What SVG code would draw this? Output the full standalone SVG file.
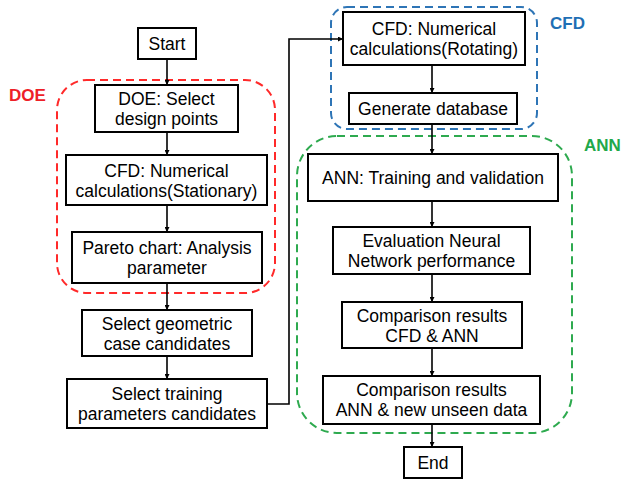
<svg xmlns="http://www.w3.org/2000/svg" width="624" height="480" viewBox="0 0 624 480">
<defs>
<marker id="ah" viewBox="0 0 10 10" refX="10" refY="5" markerWidth="5" markerHeight="5" orient="auto" markerUnits="userSpaceOnUse"><path d="M0,0 L10,5 L0,10 z" fill="#000"/></marker>
<style>
.box{fill:#fff;stroke:#000;stroke-width:2}
.t{font-family:"Liberation Sans",Arial,sans-serif;font-size:17.5px;fill:#000;text-anchor:middle}
.lbl{font-family:"Liberation Sans",Arial,sans-serif;font-size:17px;font-weight:bold}
.grp{fill:none;stroke-width:2;stroke-dasharray:8 5}
.c{fill:none;stroke:#000;stroke-width:1.6;marker-end:url(#ah)}
</style>
</defs>
<rect width="624" height="480" fill="#fff"/>
<g id="groups">
<rect x="57" y="80" width="218" height="213" rx="30" class="grp" stroke="#FF2A2A"/>
<rect x="331" y="7" width="206" height="122" rx="16" class="grp" stroke="#2E75B6"/>
<rect x="297" y="136" width="275" height="297" rx="40" class="grp" stroke="#2EAA4F"/>
<text x="9" y="101" class="lbl" fill="#EE2027">DOE</text>
<text x="550" y="29" class="lbl" fill="#1F6FB5">CFD</text>
<text x="584" y="151" class="lbl" fill="#22A84A">ANN</text>
</g>
<g id="connectors">
<path class="c" d="M167,59 V85"/>
<path class="c" d="M167,132 V155"/>
<path class="c" d="M167,205 V232"/>
<path class="c" d="M167,283 V310"/>
<path class="c" d="M167,356 V379"/>
<path class="c" d="M267,404 H289 V39 H343"/>
<path class="c" d="M432,65 V93"/>
<path class="c" d="M432,124 V154"/>
<path class="c" d="M432,201 V227"/>
<path class="c" d="M432,274 V302"/>
<path class="c" d="M432,348 V376"/>
<path class="c" d="M432,424 V447"/>
</g>
<g id="start"><rect class="box" x="138" y="28" width="58" height="31"/><text class="t" x="167" y="50">Start</text></g>
<g id="doe"><rect class="box" x="95" y="85" width="143" height="47"/><text class="t" x="166.5" y="105">DOE: Select</text><text class="t" x="166.5" y="125">design points</text></g>
<g id="cfd-stationary"><rect class="box" x="66" y="155" width="201" height="50"/><text class="t" x="166.5" y="176.5">CFD: Numerical</text><text class="t" x="166.5" y="196.5">calculations(Stationary)</text></g>
<g id="pareto"><rect class="box" x="72" y="232" width="190" height="51"/><text class="t" x="167" y="254">Pareto chart: Analysis</text><text class="t" x="167" y="274">parameter</text></g>
<g id="select-geometric"><rect class="box" x="82" y="310" width="170" height="46"/><text class="t" x="167" y="329.5">Select geometric</text><text class="t" x="167" y="349.5">case candidates</text></g>
<g id="select-training"><rect class="box" x="67" y="379" width="200" height="49"/><text class="t" x="167" y="400">Select training</text><text class="t" x="167" y="420">parameters candidates</text></g>
<g id="cfd-rotating"><rect class="box" x="343" y="12" width="182" height="53"/><text class="t" x="434" y="35">CFD: Numerical</text><text class="t" x="434" y="55">calculations(Rotating)</text></g>
<g id="generate-database"><rect class="box" x="349" y="93" width="168" height="31"/><text class="t" x="433" y="114.5">Generate database</text></g>
<g id="ann-training"><rect class="box" x="308" y="154" width="250" height="47"/><text class="t" x="433" y="183.5">ANN: Training and validation</text></g>
<g id="evaluation"><rect class="box" x="333" y="227" width="197" height="47"/><text class="t" x="431.5" y="247">Evaluation Neural</text><text class="t" x="431.5" y="267">Network performance</text></g>
<g id="comparison-cfd-ann"><rect class="box" x="342" y="302" width="180" height="46"/><text class="t" x="432" y="321.5">Comparison results</text><text class="t" x="432" y="341.5">CFD &amp; ANN</text></g>
<g id="comparison-unseen"><rect class="box" x="323" y="376" width="217" height="48"/><text class="t" x="431.5" y="396">Comparison results</text><text class="t" x="431.5" y="416">ANN &amp; new unseen data</text></g>
<g id="end"><rect class="box" x="404" y="447" width="58" height="31"/><text class="t" x="433" y="469">End</text></g>
</svg>
